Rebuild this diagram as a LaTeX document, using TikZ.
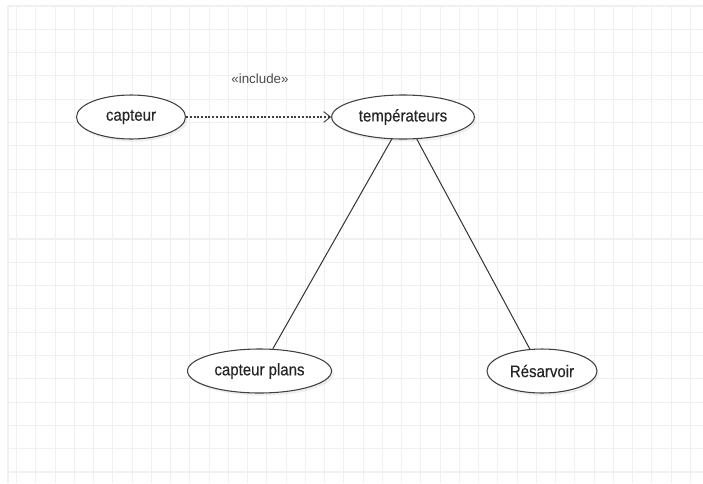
\documentclass[tikz,border=0pt]{standalone}
\usepackage{fontspec}
\setmainfont{Liberation Sans}
\newfontfamily\ucfont[FakeStretch=0.9, FakeBold=0.4]{Liberation Sans}
\usetikzlibrary{arrows.meta, positioning, shapes.geometric, shadows}

\begin{document}
\begin{tikzpicture}[
    x=0.75pt, y=-0.75pt,
    gridline/.style={
        draw=black!6,
        line width=0.8pt,
    },
    usecase/.style={
        ellipse,
        draw=black!75,
        line width=0.8pt,
        fill=white,
        inner sep=0pt,
        minimum height=33pt,
        font=\ucfont\fontsize{12.5}{14}\selectfont,
        text=black!85,
        drop shadow={opacity=0.12, shadow xshift=1.5pt, shadow yshift=-2pt},
    },
    link/.style={
        draw=black!80,
        line width=0.75pt,
    },
    include/.style={
        draw=black!75,
        line width=0.9pt,
        dash pattern=on 1.5pt off 1.3pt,
        -{Straight Barb[length=5pt, width=8pt, line width=0.7pt]},
    },
    stereo/.style={
        font=\fontsize{10}{12}\selectfont,
        text=black!70,
        inner sep=0pt,
    }
]
    \useasboundingbox (0,0) rectangle (703,483);
    \fill[white] (0,0) rectangle (703,483);

    % Grid
    \foreach \gx in {0,...,35}
        \draw[gridline] (16.7+19.25*\gx,6) -- (16.7+19.25*\gx,483);
    \foreach \gy in {0,...,20}
        \draw[gridline] (8,6+23.3*\gy) -- (703,6+23.3*\gy);
    \draw[gridline] (8,6) -- (8,483);

    % Use cases
    \node[usecase, minimum width=81.75pt] (capteur) at (131,117) {capteur};
    \node[usecase, minimum width=107pt] (temp) at (403,117) {températeurs};
    \node[usecase, minimum width=108pt] (cplans) at (259.5,371) {capteur plans};
    \node[usecase, minimum width=82.5pt] (resar) at (542,371) {Résarvoir};

    % Include
    \draw[include] (capteur) -- (temp);
    \node[stereo] (inclabel) at (260,79) {«include»};

    % Associations
    \draw[link] (temp.-117) -- (cplans.59);
    \draw[link] (temp.-58) -- (resar.119);

\end{tikzpicture}
\end{document}
